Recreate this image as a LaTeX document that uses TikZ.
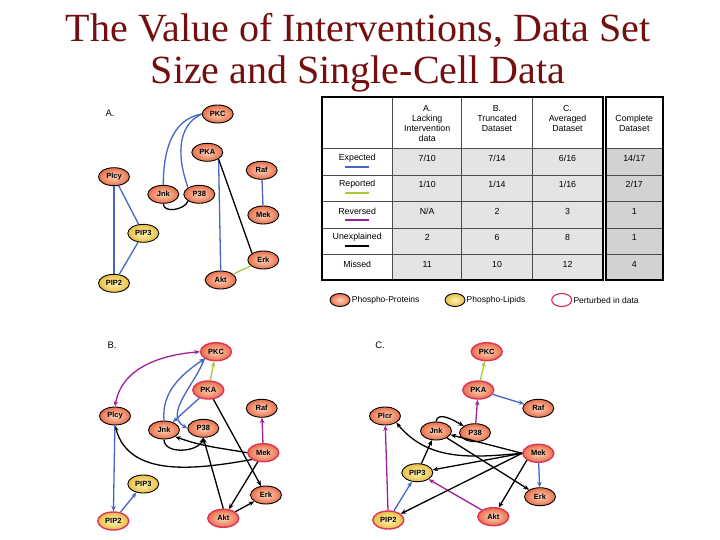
\documentclass[tikz,border=0pt]{standalone}
\usepackage{fontspec}
\setmainfont{Liberation Serif}
\setsansfont{Liberation Sans}
\usetikzlibrary{positioning, arrows.meta, shapes.geometric, calc}

\definecolor{titlered}{HTML}{730F0F}
\definecolor{protin}{HTML}{FBD6BE}
\definecolor{protout}{HTML}{EA6E48}
\definecolor{lipin}{HTML}{FFF4BE}
\definecolor{lipout}{HTML}{E8BE40}
\definecolor{pertred}{HTML}{E0335A}
\definecolor{edgeblue}{HTML}{4565C8}
\definecolor{edgegreen}{HTML}{A9C934}
\definecolor{edgepurple}{HTML}{A0209C}
\definecolor{cellgray}{HTML}{E4E4E4}
\definecolor{fullgray}{HTML}{D2D2D2}

\begin{document}
\begin{tikzpicture}[x=1pt, y=-1pt,
    prot/.style={ellipse, draw=black, line width=0.9pt, inner color=protin, outer color=protout,
                 minimum width=31pt, minimum height=18pt, inner sep=0pt,
                 font=\sffamily\bfseries\fontsize{7.5}{7.5}\selectfont},
    lipid/.style={prot, inner color=lipin, outer color=lipout},
    pert/.style={draw=pertred, line width=1.4pt},
    panel/.style={font=\sffamily\fontsize{9.5}{9.5}\selectfont},
    expected/.style={draw=edgeblue, line width=1.3pt},
    reported/.style={draw=edgegreen, line width=1.3pt},
    reversed/.style={draw=edgepurple, line width=1.3pt},
    unexpl/.style={draw=black, line width=1.3pt},
    ->/.style={-{Stealth[length=5.5pt, width=4.5pt]}},
    cell/.style={font=\sffamily\fontsize{8.8}{10}\selectfont, align=center},
    gridline/.style={draw=black!70, line width=0.8pt},
    frame/.style={draw=black, line width=1.8pt},
    legend/.style={font=\sffamily\fontsize{8.5}{9}\selectfont, anchor=west, inner sep=0pt}
]
    \useasboundingbox (0,0) rectangle (720,540);

    % Title
    \node[font=\fontsize{40}{42}\selectfont, text=titlered, anchor=base] (title1) at (358,41.7) {The Value of Interventions, Data Set};
    \node[font=\fontsize{40}{42}\selectfont, text=titlered, anchor=base] (title2) at (358,83.3) {Size and Single-Cell Data};

    % Panel A: lacking intervention data
    \node[panel] (aLabel) at (110,113) {A.};
    \node[prot] (aPKC) at (217.7,114) {PKC};
    \node[prot] (aPKA) at (207.3,152.3) {PKA};
    \node[prot] (aPlcy) at (114,176.7) {Plcy};
    \node[prot] (aRaf) at (261.7,170.3) {Raf};
    \node[prot] (aJnk) at (163.3,194.3) {Jnk};
    \node[prot] (aP38) at (199.3,194.3) {P38};
    \node[prot] (aMek) at (263.3,215) {Mek};
    \node[lipid] (aPIP3) at (143.3,233.3) {PIP3};
    \node[prot] (aErk) at (263.3,260) {Erk};
    \node[lipid] (aPIP2) at (114,283.3) {PIP2};
    \node[prot] (aAkt) at (220.7,280) {Akt};

    \draw[expected] (aPKC.west) to[out=190, in=90] (aJnk.north);
    \draw[expected] (aPKC.west) to[out=205, in=110] (aP38.north west);
    \draw[unexpl] (aJnk.south) to[out=-90, in=-110] (aP38.south west);
    \draw[expected] (aPKA.south east) -- (aAkt.north);
    \draw[unexpl] (aPKA.south east) -- (aErk.north west);
    \draw[expected] (aRaf) -- (aMek);
    \draw[expected] (aPlcy) -- (aPIP2);
    \draw[expected] (aPlcy) -- (aPIP3);
    \draw[expected] (aPIP3) -- (aPIP2);
    \draw[reported] (aAkt) -- (aErk);

    % Panel B: truncated dataset
    \node[panel] (bLabel) at (112,345) {B.};
    \node[prot, pert] (bPKC) at (216,351.7) {PKC};
    \node[prot, pert] (bPKA) at (208.3,390) {PKA};
    \node[prot] (bPlcy) at (115,416) {Plcy};
    \node[prot] (bRaf) at (261.7,408.3) {Raf};
    \node[prot] (bJnk) at (164,430) {Jnk};
    \node[prot] (bP38) at (203.3,428.3) {P38};
    \node[prot, pert] (bMek) at (263.3,452.7) {Mek};
    \node[lipid] (bPIP3) at (143.3,484) {PIP3};
    \node[prot] (bErk) at (266,495) {Erk};
    \node[lipid, pert] (bPIP2) at (113.3,521) {PIP2};
    \node[prot, pert] (bAkt) at (223.3,518.3) {Akt};

    \draw[reversed, {Stealth[length=5.5pt, width=4.5pt]}-{Stealth[length=5.5pt, width=4.5pt]}] (bPKC.west) to[out=185, in=80] (bPlcy.north);
    \draw[reported, ->] (bPKA) -- (bPKC);
    \draw[expected, ->] (bJnk.north) to[out=95, in=215] (bPKC.south west);
    \draw[expected, ->] (bPKC.south west) to[out=250, in=150] (bP38.west);
    \draw[expected, ->] (bPKA) -- (bJnk);
    \draw[unexpl, ->] (bPKA) -- (bErk);
    \draw[reversed, ->] (bMek) -- (bRaf);
    \draw[unexpl, ->] (bMek.west) to[out=170, in=-20] (bJnk.south east);
    \draw[unexpl, ->] (bMek.south west) to[out=190, in=-75] (bPlcy.south);
    \draw[unexpl, ->] (bJnk.south) to[out=-90, in=-110] (bP38.south);
    \draw[unexpl, ->] (bAkt.north) -- (bP38.south);
    \draw[unexpl, ->] (bMek) -- (bAkt);
    \draw[unexpl, ->] (bAkt) -- (bErk);
    \draw[expected, ->] (bPlcy) -- (bPIP2);
    \draw[expected, ->] (bPIP2) -- (bPIP3);

    % Panel C: averaged dataset
    \node[panel] (cLabel) at (380,345) {C.};
    \node[prot, pert] (cPKC) at (486.7,351.7) {PKC};
    \node[prot, pert] (cPKA) at (478.3,390) {PKA};
    \node[prot] (cRaf) at (538.3,408.3) {Raf};
    \node[prot] (cPlcy) at (385,416) {Plcr};
    \node[prot] (cJnk) at (436,431) {Jnk};
    \node[prot] (cP38) at (475,432.7) {P38};
    \node[prot, pert] (cMek) at (538.3,453.3) {Mek};
    \node[lipid] (cPIP3) at (417.3,472.7) {PIP3};
    \node[prot] (cErk) at (540,496.7) {Erk};
    \node[lipid, pert] (cPIP2) at (388.3,520) {PIP2};
    \node[prot, pert] (cAkt) at (493.3,516.7) {Akt};

    \draw[reported, ->] (cPKA) -- (cPKC);
    \draw[expected, ->] (cPKA) -- (cRaf);
    \draw[reversed, ->] (cP38) -- (cPKA);
    \draw[unexpl, ->] (cJnk.north) to[out=80, in=150] (cP38.north west);
    \draw[expected, ->] (cMek) -- (cErk);
    \draw[reversed, ->] (cPIP2) -- (cPlcy);
    \draw[expected, ->] (cPIP2) -- (cPIP3);
    \draw[reversed, ->] (cAkt) -- (cPIP3);
    \draw[unexpl, ->] (cMek.west) -- (cJnk);
    \draw[unexpl, ->] (cMek.west) to[out=185, in=-50] (cPlcy.south east);
    \draw[unexpl, ->] (cMek.west) -- (cPIP3);
    \draw[unexpl, ->] (cMek.west) -- (cPIP2);
    \draw[unexpl, ->] (cMek.south west) -- (cAkt);
    \draw[unexpl, ->] (cJnk) -- (cErk);
    \draw[unexpl, ->] (cPIP3) -- (cJnk);

    % Table
    \fill[cellgray] (392.7,148.3) rectangle (602.7,280);
    \fill[fullgray] (606,148.3) rectangle (662.7,280);
    \foreach \y in {148.3,175,201.7,228.3,254.3} {
        \draw[gridline] (321.7,\y) -- (602.7,\y);
        \draw[gridline] (606,\y) -- (662.7,\y);
    }
    \foreach \x in {392.7,461.7,532.3}
        \draw[gridline] (\x,96.7) -- (\x,280);
    \draw[frame] (321.7,96.7) rectangle (602.7,280);
    \draw[frame] (606,96.7) rectangle (662.7,280);

    \node[cell] (headA) at (427.2,123.3) {A.\\Lacking\\Intervention\\data};
    \node[cell] (headB) at (497,118.3) {B.\\Truncated\\Dataset};
    \node[cell] (headC) at (567.5,118.3) {C.\\Averaged\\Dataset};
    \node[cell] (headD) at (634.3,123.3) {Complete\\Dataset};

    \foreach \lab/\col/\y/\va/\vb/\vc/\vd in {
        Expected/edgeblue/158.3/{7/10}/{7/14}/{6/16}/{14/17},
        Reported/edgegreen/184.3/{1/10}/{1/14}/{1/16}/{2/17},
        Reversed/edgepurple/211.7/{N/A}/2/3/1,
        Unexplained/black/237.7/2/6/8/1,
        Missed/none/264.3/11/10/12/4} {
        \node[cell] at (357.2,\y) {\lab};
        \draw[draw=\col, line width=2.5pt] (345,\y+8.5) -- (369,\y+8.5);
        \node[cell] at (427.2,\y) {\va};
        \node[cell] at (497,\y) {\vb};
        \node[cell] at (567.5,\y) {\vc};
        \node[cell] at (634.3,\y) {\vd};
    }

    % Legend
    \node[prot, minimum width=20pt, minimum height=13pt] (legProt) at (340,300) {};
    \node[legend] (legProtText) at (351.7,300) {Phospho-Proteins};
    \node[lipid, minimum width=20pt, minimum height=13pt] (legLipid) at (455,300) {};
    \node[legend] (legLipidText) at (466.5,300) {Phospho-Lipids};
    \node[ellipse, draw=pertred, line width=1.2pt, fill=white, minimum width=20pt, minimum height=13pt] (legPert) at (561.7,300) {};
    \node[legend] (legPertText) at (573.3,300) {Perturbed in data};

\end{tikzpicture}
\end{document}
